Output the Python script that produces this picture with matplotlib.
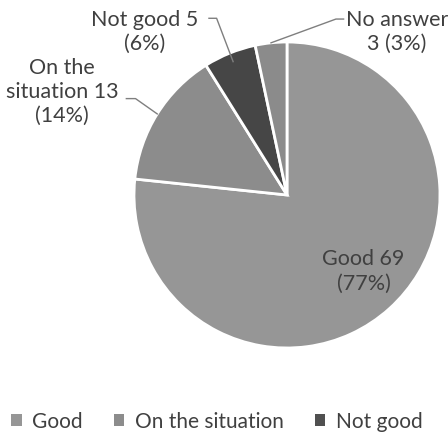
import numpy as np
import matplotlib
matplotlib.use('Agg')
import matplotlib.pyplot as plt
from matplotlib.patches import Patch

plt.rcParams['font.family'] = ['Lato', 'DejaVu Sans']

# data
categories = ['Good', 'On the situation', 'Not good', 'No answer']
counts = [69, 13, 5, 3]
percents = [77, 14, 6, 3]
colours = ['#969696', '#8c8c8c', '#464646', '#8b8b8b']
legend_items = ['Good', 'On the situation', 'Not good']

text_col = '#404040'
fs = 15.5

fig = plt.figure(figsize=(4.48, 4.37), dpi=100)
ax = fig.add_axes([0.2991, 0.2037, 0.683, 0.7002])
wedges, _ = ax.pie(counts, colors=colours, startangle=90, counterclock=False,
                   radius=1.0, wedgeprops=dict(edgecolor='white', linewidth=2))
ax.set_xlim(-1, 1)
ax.set_ylim(-1, 1)
ax.set_aspect('equal')
ax.axis('off')

labels = ['%s %d\n(%d%%)' % (c, n, p) for c, n, p in zip(categories, counts, percents)]
labels[1] = 'On the\nsituation %d\n(%d%%)' % (counts[1], percents[1])
labels[3] = 'No answer\n%d (%d%%)' % (counts[3], percents[3])

# inside label for the big slice
ax.text(0.50, -0.50, labels[0], ha='center', va='center', fontsize=fs,
        color=text_col, linespacing=1.25)

# outside labels: text position, elbow end (data units)
outside = {
    1: dict(xy=(-1.47, 0.673), elbow=[(-1.05, 0.63), (-0.99, 0.63)], r=1.0),
    2: dict(xy=(-0.93, 1.065), elbow=[(-0.51, 1.155), (-0.46, 1.155)], r=0.94),
    3: dict(xy=(0.72, 1.065), elbow=[(0.37, 1.150), (0.32, 1.150)], r=1.0),
}
for i, o in outside.items():
    w = wedges[i]
    ang = np.deg2rad((w.theta1 + w.theta2) / 2.0)
    px, py = o['r'] * np.cos(ang), o['r'] * np.sin(ang)
    pts = o['elbow'] + [(px, py)]
    ax.plot([p[0] for p in pts], [p[1] for p in pts], color='#7f7f7f',
            linewidth=1, clip_on=False)
    ax.text(o['xy'][0], o['xy'][1], labels[i], ha='center', va='center',
            fontsize=fs, color=text_col, linespacing=1.25, clip_on=False)

handles = [Patch(facecolor=colours[k]) for k in range(len(legend_items))]
handles[2] = Patch(facecolor='#505050')
fig.legend(handles, legend_items, loc='center', bbox_to_anchor=(0.484, 0.035),
           ncol=3, frameon=False, fontsize=15, handlelength=0.5,
           handleheight=0.5, handletextpad=0.5, columnspacing=1.5,
           labelcolor=text_col)

fig.savefig('out.png', dpi=100)
